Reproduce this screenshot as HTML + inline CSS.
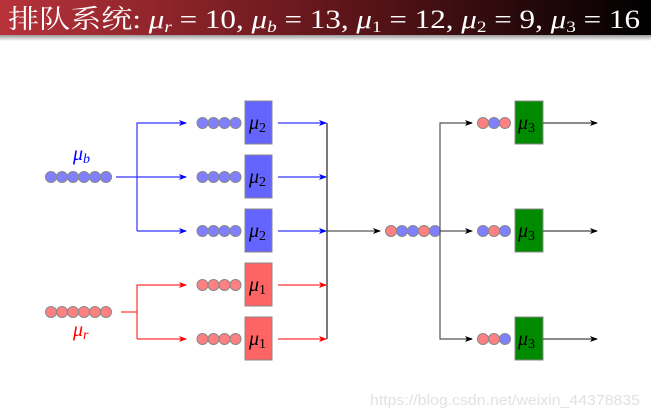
<!DOCTYPE html>
<html><head><meta charset="utf-8"><style>
html,body{margin:0;padding:0;background:#fff;width:651px;height:419px;overflow:hidden}
</style></head><body>
<svg width="651" height="419" xmlns="http://www.w3.org/2000/svg" style="display:block">
<defs>
<linearGradient id="tg" x1="0" x2="1" y1="0" y2="0">
<stop offset="0" stop-color="#b8323a"/><stop offset="0.55" stop-color="#5a1418"/><stop offset="1" stop-color="#000"/>
</linearGradient>
<linearGradient id="sh" x1="0" x2="0" y1="0" y2="1">
<stop offset="0" stop-color="#999"/><stop offset="1" stop-color="#fff"/>
</linearGradient>
<marker id="ab" markerWidth="8" markerHeight="6" refX="7" refY="3" orient="auto" markerUnits="userSpaceOnUse"><path d="M0,0 L8,3 L0,6 L2,3z" fill="#00f"/></marker>
<marker id="ar" markerWidth="8" markerHeight="6" refX="7" refY="3" orient="auto" markerUnits="userSpaceOnUse"><path d="M0,0 L8,3 L0,6 L2,3z" fill="#f00"/></marker>
<marker id="ak" markerWidth="8" markerHeight="6" refX="7" refY="3" orient="auto" markerUnits="userSpaceOnUse"><path d="M0,0 L8,3 L0,6 L2,3z" fill="#000"/></marker>
</defs>
<rect x="0" y="0" width="651" height="35" fill="url(#tg)"/>
<rect x="0" y="35" width="651" height="6" fill="url(#sh)"/>
<text x="8" y="28" fill="#fff" font-size="26" textLength="632" lengthAdjust="spacingAndGlyphs" font-family="'Liberation Serif','Noto Serif CJK SC',serif">排队系统: <tspan font-style="italic">μ</tspan><tspan font-style="italic" font-size="16" dy="4">r</tspan><tspan dy="-4"> = 10, </tspan><tspan font-style="italic">μ</tspan><tspan font-style="italic" font-size="16" dy="4">b</tspan><tspan dy="-4"> = 13, </tspan><tspan font-style="italic">μ</tspan><tspan font-size="16" dy="4">1</tspan><tspan dy="-4"> = 12, </tspan><tspan font-style="italic">μ</tspan><tspan font-size="16" dy="4">2</tspan><tspan dy="-4"> = 9, </tspan><tspan font-style="italic">μ</tspan><tspan font-size="16" dy="4">3</tspan><tspan dy="-4"> = 16</tspan></text>

<g stroke="#888" stroke-width="1">
<g fill="#8080ff"><circle cx="51" cy="177" r="5.5"/><circle cx="62" cy="177" r="5.5"/><circle cx="73" cy="177" r="5.5"/><circle cx="84" cy="177" r="5.5"/><circle cx="95" cy="177" r="5.5"/><circle cx="106" cy="177" r="5.5"/></g>
<g fill="#ff8080"><circle cx="51" cy="312" r="5.5"/><circle cx="62" cy="312" r="5.5"/><circle cx="73" cy="312" r="5.5"/><circle cx="84" cy="312" r="5.5"/><circle cx="95" cy="312" r="5.5"/><circle cx="106" cy="312" r="5.5"/></g>
<g fill="#8080ff">
<circle cx="202.5" cy="123" r="5.5"/><circle cx="213.5" cy="123" r="5.5"/><circle cx="224.5" cy="123" r="5.5"/><circle cx="235.5" cy="123" r="5.5"/>
<circle cx="202.5" cy="177" r="5.5"/><circle cx="213.5" cy="177" r="5.5"/><circle cx="224.5" cy="177" r="5.5"/><circle cx="235.5" cy="177" r="5.5"/>
<circle cx="202.5" cy="231" r="5.5"/><circle cx="213.5" cy="231" r="5.5"/><circle cx="224.5" cy="231" r="5.5"/><circle cx="235.5" cy="231" r="5.5"/>
</g>
<g fill="#ff8080">
<circle cx="202.5" cy="285" r="5.5"/><circle cx="213.5" cy="285" r="5.5"/><circle cx="224.5" cy="285" r="5.5"/><circle cx="235.5" cy="285" r="5.5"/>
<circle cx="202.5" cy="339" r="5.5"/><circle cx="213.5" cy="339" r="5.5"/><circle cx="224.5" cy="339" r="5.5"/><circle cx="235.5" cy="339" r="5.5"/>
</g>
<rect x="245" y="101" width="27" height="43" fill="#6464ff"/>
<rect x="245" y="155" width="27" height="43" fill="#6464ff"/>
<rect x="245" y="209" width="27" height="43" fill="#6464ff"/>
<rect x="245" y="263" width="27" height="43" fill="#ff6464"/>
<rect x="245" y="317" width="27" height="43" fill="#ff6464"/>
<circle cx="391" cy="231" r="5.5" fill="#ff8080"/><circle cx="402" cy="231" r="5.5" fill="#8080ff"/><circle cx="413" cy="231" r="5.5" fill="#8080ff"/><circle cx="424" cy="231" r="5.5" fill="#ff8080"/><circle cx="435" cy="231" r="5.5" fill="#8080ff"/>
<circle cx="483" cy="123" r="5.5" fill="#ff8080"/><circle cx="494" cy="123" r="5.5" fill="#8080ff"/><circle cx="505" cy="123" r="5.5" fill="#ff8080"/>
<circle cx="483" cy="231" r="5.5" fill="#8080ff"/><circle cx="494" cy="231" r="5.5" fill="#ff8080"/><circle cx="505" cy="231" r="5.5" fill="#8080ff"/>
<circle cx="483" cy="339" r="5.5" fill="#ff8080"/><circle cx="494" cy="339" r="5.5" fill="#ff8080"/><circle cx="505" cy="339" r="5.5" fill="#8080ff"/>
<rect x="515" y="101" width="28" height="43" fill="#008a00"/>
<rect x="515" y="209" width="28" height="43" fill="#008a00"/>
<rect x="515" y="317" width="28" height="43" fill="#008a00"/>
</g>

<g stroke="#33f" stroke-width="1.2" fill="none">
<path d="M116,177 H186" marker-end="url(#ab)"/>
<path d="M137,231 V123 H186" marker-end="url(#ab)"/>
<path d="M137,231 H186" marker-end="url(#ab)"/>
<path d="M278,123 H326" marker-end="url(#ab)"/>
<path d="M278,177 H326" marker-end="url(#ab)"/>
<path d="M278,231 H326" marker-end="url(#ab)"/>
</g>
<g stroke="#f33" stroke-width="1.2" fill="none">
<path d="M121,312 H137"/>
<path d="M137,339 V285 H186" marker-end="url(#ar)"/>
<path d="M137,339 H186" marker-end="url(#ar)"/>
<path d="M278,285 H326" marker-end="url(#ar)"/>
<path d="M278,339 H326" marker-end="url(#ar)"/>
</g>
<g stroke="#222" stroke-width="1.2" fill="none">
<path d="M327,123 V339"/>
<path d="M327,231 H380" stroke="#555" marker-end="url(#ak)"/>
<path d="M440,231 H472" stroke="#555" marker-end="url(#ak)"/>
<path d="M472,123 H440 V339 H472" stroke="#555"/>
<path d="M466,123 H472" marker-end="url(#ak)"/>
<path d="M466,339 H472" marker-end="url(#ak)"/>
<path d="M543,123 H597" stroke="#444" marker-end="url(#ak)"/>
<path d="M543,231 H597" stroke="#444" marker-end="url(#ak)"/>
<path d="M543,339 H597" stroke="#444" marker-end="url(#ak)"/>
</g>

<g font-family="'Liberation Serif',serif" font-size="20" fill="#000">
<text x="249" y="129" font-style="italic">μ<tspan font-style="normal" font-size="14" dy="3">2</tspan></text>
<text x="249" y="183" font-style="italic">μ<tspan font-style="normal" font-size="14" dy="3">2</tspan></text>
<text x="249" y="237" font-style="italic">μ<tspan font-style="normal" font-size="14" dy="3">2</tspan></text>
<text x="249" y="291" font-style="italic">μ<tspan font-style="normal" font-size="14" dy="3">1</tspan></text>
<text x="249" y="345" font-style="italic">μ<tspan font-style="normal" font-size="14" dy="3">1</tspan></text>
<text x="518" y="129" font-style="italic">μ<tspan font-style="normal" font-size="14" dy="3">3</tspan></text>
<text x="518" y="237" font-style="italic">μ<tspan font-style="normal" font-size="14" dy="3">3</tspan></text>
<text x="518" y="345" font-style="italic">μ<tspan font-style="normal" font-size="14" dy="3">3</tspan></text>
<text x="73" y="160" font-style="italic" fill="#00f">μ<tspan font-size="14" dy="3">b</tspan></text>
<text x="73" y="336" font-style="italic" fill="#f00">μ<tspan font-size="14" dy="3">r</tspan></text>
</g>
<text x="370" y="405" textLength="270" lengthAdjust="spacingAndGlyphs" font-family="'Liberation Sans',sans-serif" font-size="15" fill="#e2e2e2">https://blog.csdn.net/weixin_44378835</text>
</svg>
</body></html>
